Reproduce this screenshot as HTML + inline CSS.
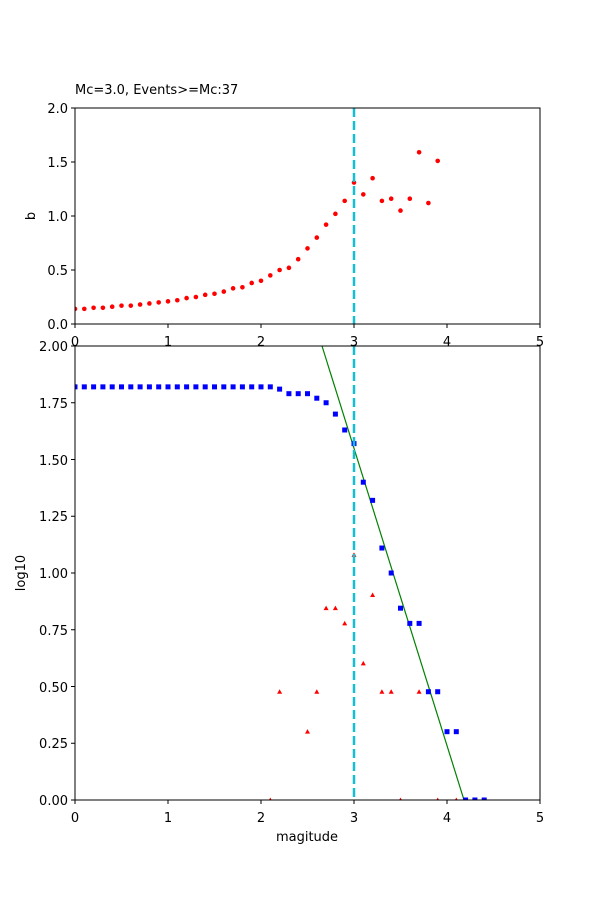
<!DOCTYPE html>
<html><head><meta charset="utf-8"><style>body{margin:0;background:#fff}svg{display:block}text{font-family:"DejaVu Sans","Liberation Sans",sans-serif;font-size:13px;fill:#000}</style></head>
<body>
<svg id="s" width="600" height="900" xmlns="http://www.w3.org/2000/svg">
<defs>
<clipPath id="c1"><rect x="75" y="108" width="465" height="216"/></clipPath>
<clipPath id="c2"><rect x="75" y="346" width="465" height="454"/></clipPath>
</defs>
<rect width="600" height="900" fill="#fff"/>
<text x="75" y="94">Mc=3.0, Events&gt;=Mc:37</text>
<g id="gtop" clip-path="url(#c1)"></g>
<g id="gbot" clip-path="url(#c2)"></g>
<rect x="75" y="108" width="465" height="216" fill="none" stroke="#000" stroke-width="1"/>
<rect x="75" y="346" width="465" height="454" fill="none" stroke="#000" stroke-width="1"/>
<g id="gticks"></g>
<text x="75" y="346" text-anchor="middle">0</text><text x="168" y="346" text-anchor="middle">1</text><text x="261" y="346" text-anchor="middle">2</text><text x="354" y="346" text-anchor="middle">3</text><text x="447" y="346" text-anchor="middle">4</text><text x="540" y="346" text-anchor="middle">5</text>
<text x="68" y="113" text-anchor="end">2.0</text><text x="68" y="167" text-anchor="end">1.5</text><text x="68" y="221" text-anchor="end">1.0</text><text x="68" y="275" text-anchor="end">0.5</text><text x="68" y="329" text-anchor="end">0.0</text>
<text x="75" y="822" text-anchor="middle">0</text><text x="168" y="822" text-anchor="middle">1</text><text x="261" y="822" text-anchor="middle">2</text><text x="354" y="822" text-anchor="middle">3</text><text x="447" y="822" text-anchor="middle">4</text><text x="540" y="822" text-anchor="middle">5</text>
<text x="68" y="351" text-anchor="end">2.00</text><text x="68" y="408" text-anchor="end">1.75</text><text x="68" y="465" text-anchor="end">1.50</text><text x="68" y="521" text-anchor="end">1.25</text><text x="68" y="578" text-anchor="end">1.00</text><text x="68" y="635" text-anchor="end">0.75</text><text x="68" y="692" text-anchor="end">0.50</text><text x="68" y="748" text-anchor="end">0.25</text><text x="68" y="805" text-anchor="end">0.00</text>
<text x="35" y="216" text-anchor="middle" transform="rotate(-90 35 216)">b</text>
<text x="25" y="573" text-anchor="middle" transform="rotate(-90 25 573)">log10</text>
<text x="307" y="841" text-anchor="middle">magitude</text>
</svg>
<script>
(function(){
var NS="http://www.w3.org/2000/svg";
function el(p,t,a){var e=document.createElementNS(NS,t);for(var k in a)e.setAttribute(k,a[k]);p.appendChild(e);return e;}
var X=function(m){return 75+93*m;};
var gT=document.getElementById("gtop"),gB=document.getElementById("gbot"),tk=document.getElementById("gticks");
var b=[0.14,0.14,0.15,0.15,0.16,0.17,0.17,0.18,0.19,0.20,0.21,0.22,0.24,0.25,0.27,0.28,0.30,0.33,0.34,0.38,0.40,0.45,0.50,0.52,0.60,0.70,0.80,0.92,1.02,1.14,1.31,1.20,1.35,1.14,1.16,1.05,1.16,1.59,1.12,1.51];
b.forEach(function(v,i){el(gT,"circle",{cx:X(i/10),cy:324-108*v,r:2.3,fill:"#f00"});});
el(gT,"line",{x1:X(3),y1:108,x2:X(3),y2:324,stroke:"#17becf","stroke-width":2.5,"stroke-dasharray":"9,4"});
var Yb=function(v){return 800-227*v;};
el(gB,"line",{x1:X(2.656),y1:Yb(2),x2:X(4.183),y2:Yb(0),stroke:"green","stroke-width":1.2});
var blue=[];for(var i=0;i<=21;i++)blue.push(1.82);
blue=blue.concat([1.81,1.79,1.79,1.79,1.77,1.75,1.70,1.63,1.57,1.40,1.32,1.11,1.0,0.845,0.778,0.778,0.477,0.477,0.301,0.301,0,0,0]);
blue.forEach(function(v,i){el(gB,"rect",{x:X(i/10)-2.5,y:Yb(v)-2.5,width:5,height:5,fill:"#00f"});});
var red=[[2.1,0],[2.2,0.477],[2.5,0.301],[2.6,0.477],[2.7,0.845],[2.8,0.845],[2.9,0.778],[3.0,1.08],[3.1,0.602],[3.2,0.903],[3.3,0.477],[3.4,0.477],[3.5,0],[3.7,0.477],[3.9,0],[4.1,0]];
red.forEach(function(p){var x=X(p[0]),y=Yb(p[1]);el(gB,"polygon",{points:(x-2.5)+","+(y+2)+" "+(x+2.5)+","+(y+2)+" "+x+","+(y-2.5),fill:"#f00"});});
el(gB,"line",{x1:X(3),y1:346,x2:X(3),y2:800,stroke:"#17becf","stroke-width":2.5,"stroke-dasharray":"9,4"});
for(var m=0;m<=5;m++){el(tk,"line",{x1:X(m),y1:324,x2:X(m),y2:328,stroke:"#000"});el(tk,"line",{x1:X(m),y1:800,x2:X(m),y2:804,stroke:"#000"});}
for(var j=0;j<=4;j++)el(tk,"line",{x1:71,y1:324-54*j,x2:75,y2:324-54*j,stroke:"#000"});
for(var j=0;j<=8;j++)el(tk,"line",{x1:71,y1:800-56.75*j,x2:75,y2:800-56.75*j,stroke:"#000"});
})();
</script>
</body></html>
